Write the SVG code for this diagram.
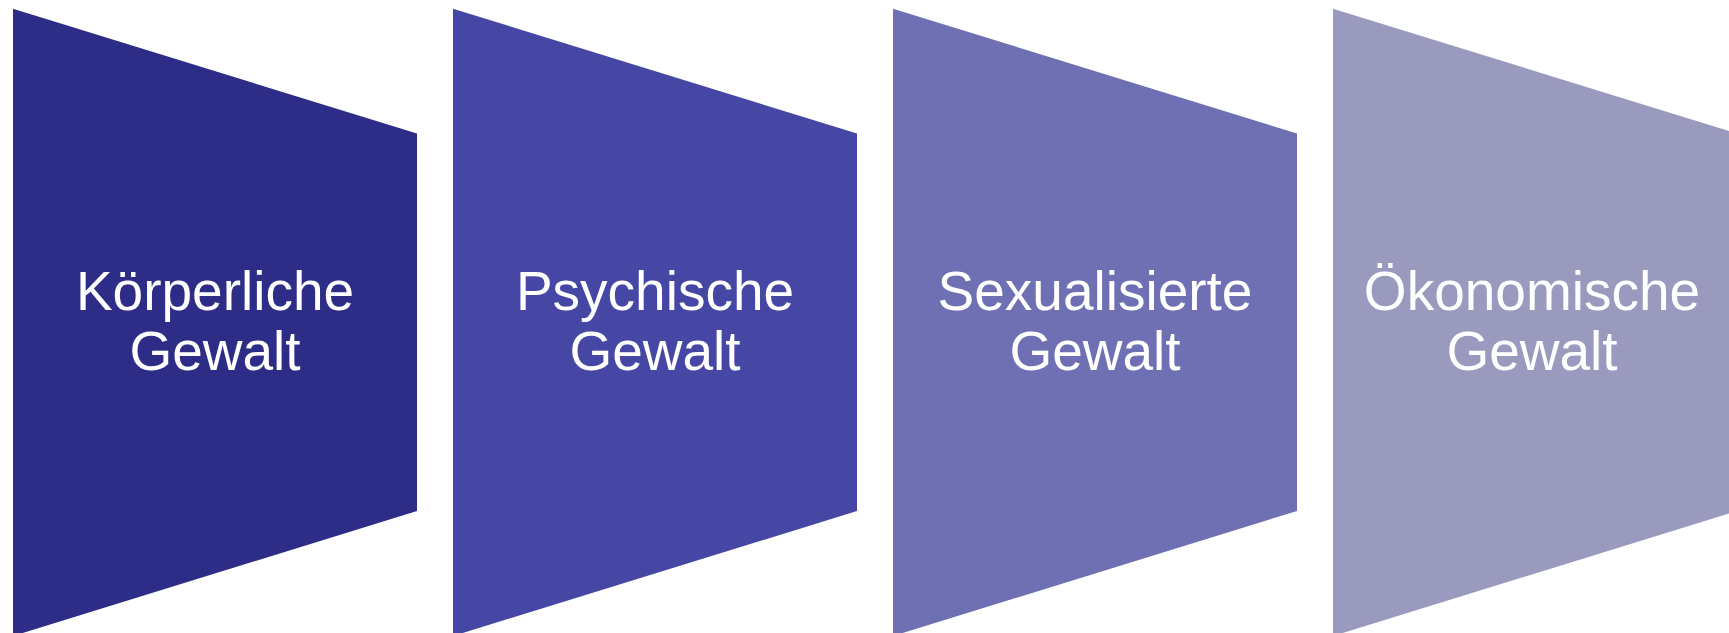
<svg xmlns="http://www.w3.org/2000/svg" width="1729" height="633" viewBox="0 0 1729 633">
<style>
.lbl{font-family:"Liberation Sans",Arial,sans-serif;font-size:55px;fill:#ffffff;text-anchor:middle}
</style>
<rect width="1729" height="633" fill="#ffffff"/>
<g id="node1">
<polygon points="13,8.7 417,133.5 417,511 13,636" fill="#2D2D87"/>
<text class="lbl" x="215" y="310">Körperliche</text>
<text class="lbl" x="215" y="370">Gewalt</text>
</g>
<g id="node2">
<polygon points="453,8.7 857,133.5 857,511 453,636" fill="#4646A5"/>
<text class="lbl" x="655" y="310">Psychische</text>
<text class="lbl" x="655" y="370">Gewalt</text>
</g>
<g id="node3">
<polygon points="893,8.7 1297,133.5 1297,511 893,636" fill="#6F70B3"/>
<text class="lbl" x="1095" y="310">Sexualisierte</text>
<text class="lbl" x="1095" y="370">Gewalt</text>
</g>
<g id="node4">
<polygon points="1333,8.7 1737,133.5 1737,511 1333,636" fill="#9A9ABE"/>
<text class="lbl" x="1532" y="310">Ökonomische</text>
<text class="lbl" x="1532" y="370">Gewalt</text>
</g>
<g id="connectors"></g>
</svg>
